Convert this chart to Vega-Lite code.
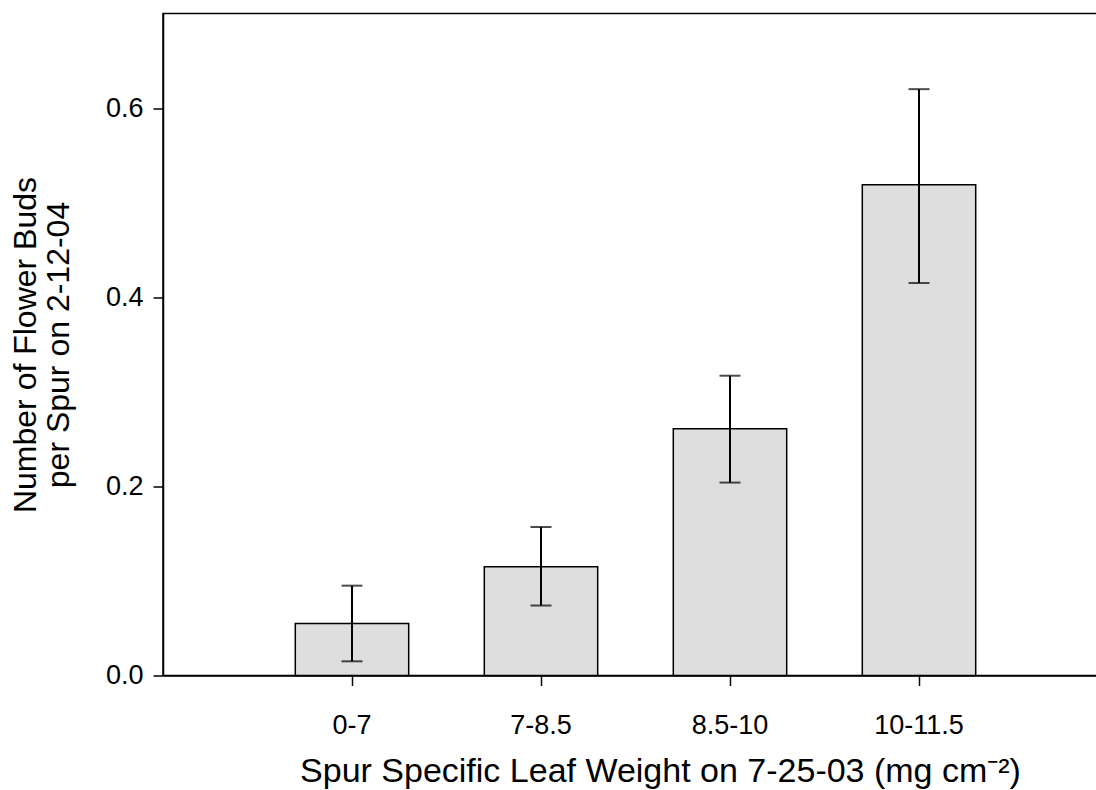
{
  "$schema": "https://vega.github.io/schema/vega-lite/v6.json",
  "autosize": {"type": "none"},
  "padding": {"left": 163, "top": 13.5, "right": 0, "bottom": 114.5},
  "width": 945,
  "height": 662,
  "background": "white",
  "config": {
    "font": "Liberation Sans",
    "view": {"stroke": "black", "strokeWidth": 1.5},
    "axis": {
      "grid": false,
      "domainColor": "black",
      "domainWidth": 1.5,
      "ticks": true,
      "tickColor": "black",
      "tickWidth": 1.5,
      "tickSize": 10,
      "labelColor": "black",
      "titleColor": "black",
      "labelFont": "Liberation Sans",
      "titleFont": "Liberation Sans",
      "labelFontSize": 27,
      "titleFontSize": 32,
      "titleFontWeight": "normal"
    }
  },
  "data": {
    "values": [
      {"cat": "0-7", "mean": 0.055, "lo": 0.015, "hi": 0.095},
      {"cat": "7-8.5", "mean": 0.115, "lo": 0.074, "hi": 0.157},
      {"cat": "8.5-10", "mean": 0.261, "lo": 0.204, "hi": 0.317},
      {"cat": "10-11.5", "mean": 0.519, "lo": 0.415, "hi": 0.620}
    ]
  },
  "encoding": {
    "x": {
      "field": "cat",
      "type": "nominal",
      "sort": null,
      "scale": {"paddingInner": 0.4, "paddingOuter": 0.7},
      "axis": {
        "title": "Spur Specific Leaf Weight on 7-25-03 (mg cm⁻²)",
        "labelAngle": 0,
        "labelPadding": 27,
        "labelFontSize": 27,
        "ticks": true,
        "tickSize": 10,
        "titleFontSize": 34,
        "titlePadding": 16,
        "titleX": 497
      }
    }
  },
  "layer": [
    {
      "mark": {"type": "bar", "fill": "#dedede", "stroke": "black", "strokeWidth": 1.5},
      "encoding": {
        "y": {
          "field": "mean",
          "type": "quantitative",
          "scale": {"domain": [0, 0.7], "nice": false},
          "axis": {
            "title": ["Number of Flower Buds", "per Spur on 2-12-04"],
            "values": [0, 0.2, 0.4, 0.6],
            "format": ".1f",
            "ticks": true,
            "tickSize": 10,
            "labelFontSize": 27,
            "labelPadding": 10,
            "titlePadding": 30,
            "titleLineHeight": 33
          }
        }
      }
    },
    {
      "mark": {"type": "rule", "color": "black", "strokeWidth": 2},
      "encoding": {
        "y": {"field": "lo", "type": "quantitative"},
        "y2": {"field": "hi"}
      }
    },
    {
      "mark": {"type": "tick", "color": "black", "thickness": 2, "size": 21, "orient": "horizontal"},
      "encoding": {"y": {"field": "lo", "type": "quantitative"}}
    },
    {
      "mark": {"type": "tick", "color": "black", "thickness": 2, "size": 21, "orient": "horizontal"},
      "encoding": {"y": {"field": "hi", "type": "quantitative"}}
    }
  ]
}
